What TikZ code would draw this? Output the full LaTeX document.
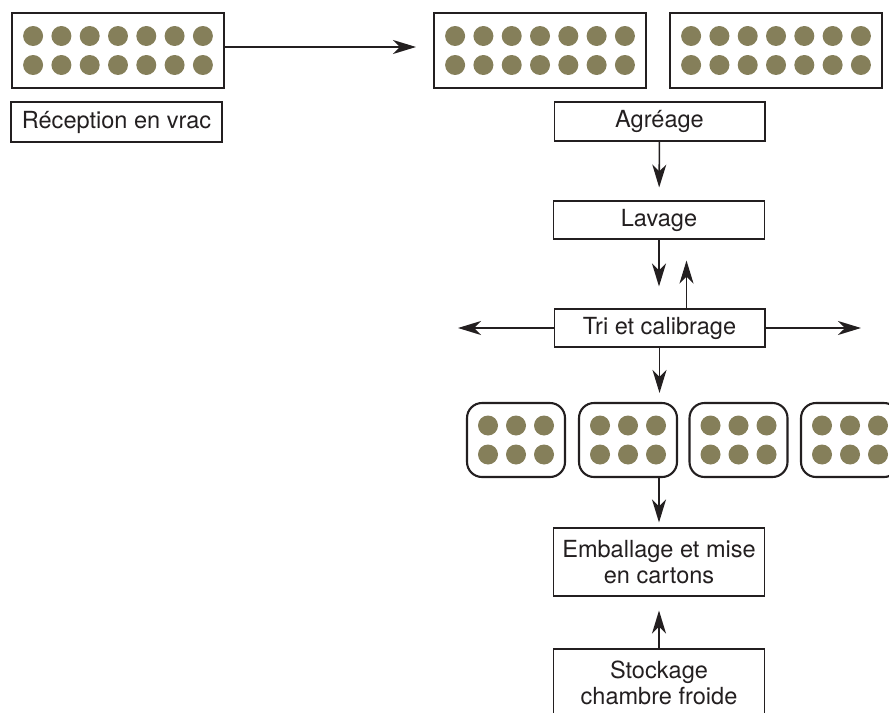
\documentclass[tikz,border=0pt]{standalone}
\usepackage{fontspec}
\setmainfont{TeX Gyre Heros}
\usetikzlibrary{arrows.meta}
\definecolor{olive}{RGB}{133,127,90}
\definecolor{trait}{RGB}{35,31,32}

\tikzset{
	etape/.style={draw=trait, line width=0.6pt, minimum width=4.22cm, minimum height=0.78cm, inner sep=0pt, align=center, text=trait, font=\fontsize{13.4}{14.4}\selectfont},
	caisse/.style={draw=trait, line width=1.2pt, minimum width=4.24cm, minimum height=1.5cm, inner sep=0pt},
	plateau/.style={draw=trait, line width=1.2pt, rounded corners=0.3cm, minimum width=1.96cm, minimum height=1.48cm, inner sep=0pt},
	fleche/.style={draw=trait, line width=0.9pt, -{Stealth[length=0.46cm, width=0.28cm, inset=0.14cm]}}
}

\begin{document}
\begin{tikzpicture}[x=0.02cm, y=-0.02cm]
					\useasboundingbox (0,0) rectangle (889,713);
					\clip (0,0) rectangle (889,713);
					
					\node[caisse] (C1) at (118,50.5) {};
					\node[caisse] (C2) at (540,50.5) {};
					\node[caisse] (C3) at (776,50.5) {};
					\node[etape, minimum height=0.8cm] (R) at (116.5,122) {Réception en vrac};
					
					\node[etape] (Ag) at (659.5,121.5) {Agréage};
					\node[etape, minimum height=0.76cm] (La) at (659,220) {Lavage};
					\node[etape, minimum height=0.76cm] (Tr) at (659.5,328) {Tri et calibrage};
					
					\node[plateau] (P1) at (516,440) {};
					\node[plateau] (P2) at (628,440) {};
					\node[plateau] (P3) at (738.5,440) {};
					\node[plateau] (P4) at (850,440) {};
					
					\node[etape, minimum height=1.36cm] (Em) at (659,562) {Emballage et mise\\en cartons};
					\node[etape, minimum height=1.36cm] (St) at (659,683) {Stockage\\chambre froide};
					
					\foreach \c in {C1,C2,C3}
						\foreach \i in {-3,...,3}
							\foreach \j in {-1,1}
								\fill[olive] ([shift={(\i*28.3,\j*14.5)}]\c) circle[radius=0.2cm];
					\foreach \c in {P1,P2,P3,P4}
						\foreach \i in {-1,0,1}
							\foreach \j in {-1,1}
								\fill[olive] ([shift={(\i*28,\j*14.5)}]\c) circle[radius=0.2cm];
					
					\coordinate (E) at (416,47);
					\coordinate (G) at (458,328);
					\coordinate (D) at (861,328);
					
					\draw[fleche] (C1.east |- E) -- (E);
					\draw[fleche, shorten >=0.26cm] (Ag) -- (La);
					\draw[fleche, shorten >=0.44cm] (La.south) -- (La.south |- Tr.north);
					\draw[fleche, shorten >=0.42cm] ([xshift=0.54cm]Tr.north) -- ([xshift=0.54cm]Tr.north |- La.south);
					\draw[fleche] (Tr.west) -- (G);
					\draw[fleche] (Tr.east) -- (D);
					\draw[fleche, shorten >=0.18cm] (Tr.south) -- (Tr.south |- P2.north);
					\draw[fleche, shorten >=0.1cm] (Em.north |- P2.south) -- (Em.north);
					\draw[fleche, shorten >=0.28cm] (St) -- (Em);
				\end{tikzpicture}
\end{document}
